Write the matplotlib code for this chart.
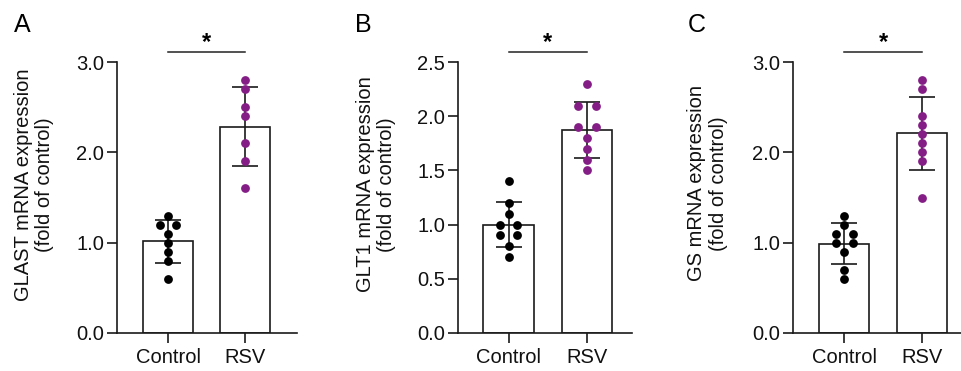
import numpy as np
import matplotlib
matplotlib.use("Agg")
import matplotlib.pyplot as plt
import matplotlib.transforms as mtransforms

plt.rcParams['font.family'] = ['Liberation Sans', 'DejaVu Sans']

categories = ["Control", "RSV"]

glast_control = [1.3, 1.2, 1.2, 1.1, 1.0, 0.9, 0.8, 0.6]
glast_rsv = [2.8, 2.7, 2.5, 2.4, 2.1, 1.9, 1.6]
glt1_control = [1.4, 1.2, 1.1, 1.0, 1.0, 0.9, 0.9, 0.8, 0.7]
glt1_rsv = [2.3, 2.1, 2.1, 1.9, 1.9, 1.8, 1.7, 1.6, 1.5]
gs_control = [1.3, 1.2, 1.1, 1.1, 1.0, 1.0, 0.9, 0.7, 0.6]
gs_rsv = [2.8, 2.7, 2.4, 2.3, 2.2, 2.1, 2.0, 1.9, 1.5]

panel_letters = ["A", "B", "C"]
ylabels = ["GLAST mRNA expression\n(fold of control)",
           "GLT1 mRNA expression\n(fold of control)",
           "GS mRNA expression\n(fold of control)"]
yticks_list = [[0, 1, 2, 3], [0, 0.5, 1.0, 1.5, 2.0, 2.5], [0, 1, 2, 3]]
sig_labels = ["*", "*", "*"]

panels = [(glast_control, glast_rsv), (glt1_control, glt1_rsv), (gs_control, gs_rsv)]

W, H = 961, 371
fig = plt.figure(figsize=(W / 100, H / 100), dpi=100)

purple = "#841E86"
colors = ["#000000", purple]
edge = "#1a1a1a"
fs = 14.5

# layout (pixels): axes left, axes right, xlim, ylabel coords, letter x
layout = [
    dict(left=116.7, right=296.7, xlim=(-0.666, 1.67), lab=(-0.459, 0.548), letx=14),
    dict(left=457.7, right=631.7, xlim=(-0.651, 1.571), lab=(-0.47, 0.549), letx=355),
    dict(left=792.7, right=961.0, xlim=(-0.667, 1.507), lab=(-0.506, 0.552), letx=688),
]
top_px, bot_px = 62.3, 332.7

for i, ((ctrl, rsv), lay) in enumerate(zip(panels, layout)):
    ax = fig.add_axes([lay['left'] / W, 1 - bot_px / H,
                       (lay['right'] - lay['left']) / W, (bot_px - top_px) / H])
    groups = [np.array(ctrl), np.array(rsv)]
    means = [g.mean() for g in groups]
    sds = [g.std(ddof=1) for g in groups]
    xs = np.arange(len(categories))
    ax.bar(xs, means, width=0.65, color="white", edgecolor=edge, linewidth=1.2, zorder=1)
    ax.errorbar(xs, means, yerr=sds, fmt="none", ecolor=edge, elinewidth=1.2,
                capsize=9.5, capthick=1.2, zorder=2)
    for x, g, c in zip(xs, groups, colors):
        vals, counts = np.unique(g, return_counts=True)
        px, py = [], []
        for v, n in zip(vals, counts):
            for k in range(n):
                px.append(x + (k - (n - 1) / 2) * 0.22)
                py.append(v)
        ax.scatter(px, py, s=40, color=c, zorder=3, linewidths=0)
    ax.set_xlim(*lay['xlim'])
    yt = yticks_list[i]
    ax.set_ylim(0, yt[-1])
    ax.set_yticks(yt)
    ax.set_yticklabels([f"{t:.1f}" for t in yt])
    ax.set_xticks(xs)
    ax.set_xticklabels(categories)
    for s in ["top", "right"]:
        ax.spines[s].set_visible(False)
    for s in ["left", "bottom"]:
        ax.spines[s].set_linewidth(1.2)
        ax.spines[s].set_color(edge)
    ax.tick_params(axis="both", labelsize=fs, width=1.2, length=7, color=edge,
                   labelcolor="#111111")
    ax.tick_params(axis="y", pad=2)
    ax.tick_params(axis="x", pad=4)
    ax.set_ylabel(ylabels[i], fontsize=fs, va="center", ha="center", linespacing=1.15,
                  color="#111111")
    ax.yaxis.set_label_coords(*lay['lab'])
    # significance bar
    trans = mtransforms.blended_transform_factory(ax.transData, ax.transAxes)
    ax.plot([xs[0], xs[1]], [1.037, 1.037], color="#222222", lw=1.1,
            transform=trans, clip_on=False)
    ax.text((xs[0] + xs[1]) / 2, 1.05, sig_labels[i], transform=trans,
            ha="center", va="baseline", fontsize=17, fontweight="bold")
    fig.text(lay['letx'] / W, 1 - 31.7 / H, panel_letters[i], fontsize=18,
             ha="left", va="baseline")

fig.savefig("out.png", dpi=100)
